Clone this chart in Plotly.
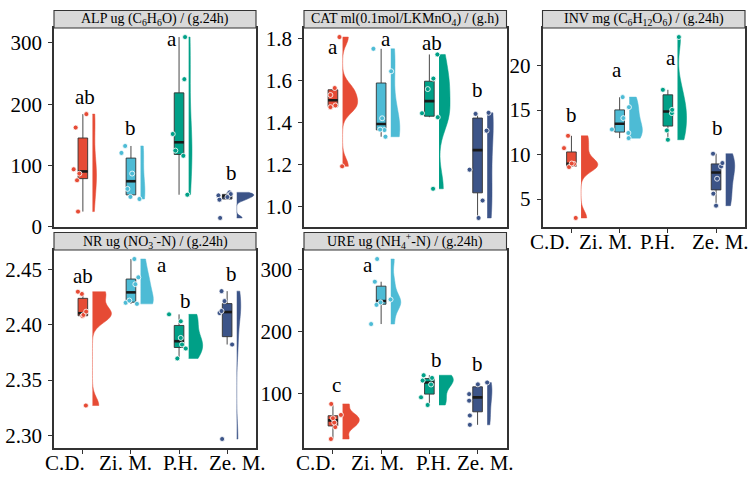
import numpy as np
import plotly.graph_objects as go

# ---------------- data ----------------
groups = ["C.D.", "Zi. M.", "P.H.", "Ze. M."]
colors = ["#E64B35", "#4DBBD5", "#00A087", "#3C5488"]

alp_values = [[184, 162, 94, 76, 25, 87],
              [132, 120.7, 49, 45.5, 87, 62],
              [309.7, 241, 151.6, 124.5, 116, 52.5],
              [14.6, 51.4, 44.4, 56.3, 53.6, 48.7]]
cat_values = [[1.806, 1.563, 1.530, 1.472, 1.48, 1.19],
              [1.75, 1.643, 1.419, 1.363, 1.365, 1.331],
              [1.723, 1.608, 1.558, 1.443, 1.424, 1.083],
              [0.944, 1.027, 1.174, 1.36, 1.44, 1.445]]
inv_values = [[2.87, 8.59, 8.93, 8.99, 10.72, 12.1],
              [11.84, 12.42, 12.82, 14.09, 15.32, 16.45],
              [11.66, 12.71, 14.65, 15.02, 17.27, 23.2],
              [4.25, 5.6, 7.28, 8.66, 9.04, 10.09]]
nr_values = [[2.327, 2.408, 2.409, 2.412, 2.428, 2.430],
             [2.419, 2.420, 2.422, 2.4368, 2.443, 2.4596],
             [2.3696, 2.3786, 2.3822, 2.3882, 2.4032, 2.4095],
             [2.2967, 2.3822, 2.4107, 2.4125, 2.4215, 2.4305]]
ure_values = [[26.4, 45.6, 53, 60, 65.3, 83],
              [212, 243, 247, 251.6, 280.3, 317],
              [81.3, 93.7, 114.4, 120.8, 125, 129.3],
              [49.3, 64.3, 88.3, 98.9, 114.6, 117.6]]

alp_letters = ["ab", "b", "a", "b"]
cat_letters = ["a", "a", "ab", "b"]
inv_letters = ["b", "a", "a", "b"]
nr_letters = ["ab", "a", "b", "b"]
ure_letters = ["c", "a", "b", "b"]

alp_ticks = [0, 100, 200, 300]
cat_ticks = [1.0, 1.2, 1.4, 1.6, 1.8]
inv_ticks = [5, 10, 15, 20]
nr_ticks = [2.30, 2.35, 2.40, 2.45]
ure_ticks = [100, 200, 300]

alp_title = "ALP ug (C<sub>6</sub>H<sub>6</sub>O) / (g.24h)"
cat_title = "CAT ml(0.1mol/LKMnO<sub>4</sub>) / (g.h)"
inv_title = "INV mg (C<sub>6</sub>H<sub>12</sub>O<sub>6</sub>) / (g.24h)"
nr_title = "NR ug (NO<sub>3</sub><sup>-</sup>-N) / (g.24h)"
ure_title = "URE ug (NH<sub>4</sub><sup>+</sup>-N) / (g.24h)"

# ---------------- layout / style (positions, sizes) ----------------
W, H = 754, 480
PXU = 48.1  # pixels per x unit
FONT = "Liberation Serif"

# jitter offsets of points (px), same order as values
alp_jit = [[3.5, -7.2, -9.2, -5.8, -4.8, -3.5], [-5.8, -9.5, -0.5, 8.5, 1.2, -3.5],
           [6, 5.3, -6.3, -3.7, 4.3, 8.3], [-7, -8.7, -7.7, 2.3, 3.6, 0.3]]
cat_jit = [[6.5, 1.8, -2.5, -2.5, 2.5, 9.2], [-7.7, 10, 1, 3.3, -1, 4.3],
           [8, 4, -1.6, -7.3, 8.4, 3.7], [1, 5, -8, 9, -2, 11]]
inv_jit = [[4.3, -2.4, 2.6, 0.3, -7.4, -3.4], [9, 8.7, -7.7, 3.7, 9.3, 3],
           [0, -1, 4, 4.3, -5, 11], [0, -2.7, 1, 5, 6.3, -3]]
nr_jit = [[3, -0.4, 0.6, 3.3, -1, -5], [6, -5.3, -1.6, 4.4, 7.4, 3.4],
          [-1.7, 6.7, 3, 1.7, 1.7, -10], [-5, 5, -7.6, -5.6, -2.6, -5.6]]
ure_jit = [[-2, 2.3, 1.3, 0, 8, -1.7], [-10, -4.6, -0.6, 9.4, -6.3, -4],
           [-1.7, -8.3, 1.7, -6.7, 2.7, -5.7], [-7.7, -7.7, -8.4, -8.4, 0.3, 9.6]]

# max half-width of violins (px)
alp_vw = [4, 4.3, 3.3, 17]
cat_vw = [15, 9, 11, 6]
inv_vw = [16.7, 13, 9, 9]
nr_vw = [19, 12.7, 14, 4]
ure_vw = [16.7, 10, 14.3, 4.7]

# letter positions (x = group index + dx, y in data units)
alp_lpos = [(1.04, 212), (2.0, 161), (2.85, 307), (4.09, 88)]
cat_lpos = [(1.0, 1.758), (2.1, 1.795), (3.06, 1.779), (4.0, 1.552)]
inv_lpos = [(1.0, 14.46), (1.95, 19.51), (3.07, 20.82), (4.03, 12.97)]
nr_lpos = [(1.0, 2.4446), (2.65, 2.4545), (3.14, 2.422), (4.1, 2.446)]
ure_lpos = [(1.07, 113.3), (1.72, 308), (3.14, 153.3), (4.0, 148)]

# x-label shifts (px) for bottom panels
inv_lab = [-21, -14, -10, 4]
nr_lab = [-18, -5, 1, 10]
ure_lab = [-17, -3.5, 4, 8]

cols = [(54, 256), (304, 506.5), (542.5, 745)]
rows = [(28, 227), (250, 448)]
strip_h = 17.5

panels = [
    dict(vals=alp_values, letters=alp_letters, ticks=alp_ticks, title=alp_title, jit=alp_jit,
         vw=alp_vw, lpos=alp_lpos, col=0, row=0, fmt="{:.0f}", lab=None),
    dict(vals=cat_values, letters=cat_letters, ticks=cat_ticks, title=cat_title, jit=cat_jit,
         vw=cat_vw, lpos=cat_lpos, col=1, row=0, fmt="{:.1f}", lab=None),
    dict(vals=inv_values, letters=inv_letters, ticks=inv_ticks, title=inv_title, jit=inv_jit,
         vw=inv_vw, lpos=inv_lpos, col=2, row=0, fmt="{:.0f}", lab=inv_lab),
    dict(vals=nr_values, letters=nr_letters, ticks=nr_ticks, title=nr_title, jit=nr_jit,
         vw=nr_vw, lpos=nr_lpos, col=0, row=1, fmt="{:.2f}", lab=nr_lab),
    dict(vals=ure_values, letters=ure_letters, ticks=ure_ticks, title=ure_title, jit=ure_jit,
         vw=ure_vw, lpos=ure_lpos, col=1, row=1, fmt="{:.0f}", lab=ure_lab),
]

fig = go.Figure()
annotations = []
shapes = []
layout_axes = {}

for k, P in enumerate(panels):
    sfx = "" if k == 0 else str(k + 1)
    xr, yr = "x" + sfx, "y" + sfx
    x0p, x1p = cols[P["col"]]
    y0p, y1p = rows[P["row"]]
    allv = np.concatenate([np.array(v, float) for v in P["vals"]])
    lo, hi = allv.min(), allv.max()
    rng = hi - lo
    yrange = [lo - 0.05 * rng, hi + 0.05 * rng]

    for g in range(4):
        v = np.array(P["vals"][g], float)
        c = colors[g]
        q1, med, q3 = np.percentile(v, [25, 50, 75])
        iqr = q3 - q1
        lf = v[v >= q1 - 1.5 * iqr].min()
        uf = v[v <= q3 + 1.5 * iqr].max()
        sd = v.std(ddof=1)
        bw = 0.9 * min(sd, iqr / 1.34 if iqr > 0 else sd) * len(v) ** -0.2
        fig.add_trace(go.Violin(
            x=[g + 1 + 0.2] * len(v), y=v, xaxis=xr, yaxis=yr, side="positive",
            width=2 * P["vw"][g] / PXU, points=False, spanmode="hard", bandwidth=bw,
            scalemode="width", fillcolor=c, line=dict(color=c, width=0.5),
            opacity=1, showlegend=False, hoverinfo="skip"))
        fig.add_trace(go.Box(
            x=[g + 1], q1=[q1], median=[med], q3=[q3], lowerfence=[lf], upperfence=[uf],
            xaxis=xr, yaxis=yr, width=0.2, fillcolor=c, whiskerwidth=0,
            line=dict(color="#333333", width=0.9), boxpoints=False,
            showlegend=False, hoverinfo="skip"))
        fig.add_trace(go.Scatter(
            x=[g + 1 - 0.1, g + 1 + 0.1], y=[med, med], xaxis=xr, yaxis=yr, mode="lines",
            line=dict(color="#1a1a1a", width=2.6), showlegend=False, hoverinfo="skip"))
        fig.add_trace(go.Scatter(
            x=[g + 1 + j / PXU for j in P["jit"][g]], y=v, xaxis=xr, yaxis=yr, mode="markers",
            marker=dict(size=5, color=c, line=dict(color="white", width=0.8)),
            showlegend=False, hoverinfo="skip"))
        lx, ly = P["lpos"][g]
        annotations.append(dict(x=lx, y=ly, xref=xr, yref=yr, text=P["letters"][g],
                                showarrow=False, font=dict(family=FONT, size=21, color="black"),
                                xanchor="center", yanchor="middle"))
        if P["lab"] is not None:
            annotations.append(dict(x=g + 1, y=1 - y1p / H, xref=xr, yref="paper",
                                    text=groups[g], showarrow=False, xshift=P["lab"][g],
                                    yshift=-1, yanchor="top", xanchor="center",
                                    font=dict(family=FONT, size=21, color="black")))

    bottom = P["lab"] is not None
    xax = dict(
        domain=[x0p / W, x1p / W], range=[0.4, 4.6], anchor=yr, showgrid=False, zeroline=False,
        showline=True, mirror=True, linecolor="#333333", linewidth=1.5,
        showticklabels=False)
    if bottom:
        xax.update(tickvals=[1, 2, 3, 4], ticks="outside", ticklen=4, tickcolor="#333333")
    else:
        xax.update(tickvals=[], ticks="")
    layout_axes["xaxis" + sfx] = xax
    layout_axes["yaxis" + sfx] = dict(
        domain=[1 - y1p / H, 1 - y0p / H], range=yrange, anchor=xr, showgrid=False,
        zeroline=False, showline=True, mirror=True, linecolor="#333333", linewidth=1.5,
        tickvals=P["ticks"], ticktext=[P["fmt"].format(t) for t in P["ticks"]],
        ticks="outside", ticklen=4, tickcolor="#333333", ticklabelstandoff=2,
        tickfont=dict(family=FONT, size=21, color="black"))

    # strip header
    shapes.append(dict(type="rect", xref="paper", yref="paper",
                       x0=x0p / W, x1=x1p / W, y0=1 - y0p / H, y1=1 - (y0p - strip_h) / H,
                       fillcolor="#D9D9D9", line=dict(color="#333333", width=1.1), layer="above"))
    annotations.append(dict(x=(x0p + x1p) / 2 / W, y=1 - (y0p - strip_h / 2) / H,
                            xref="paper", yref="paper", text=P["title"], showarrow=False,
                            xanchor="center", yanchor="middle",
                            font=dict(family=FONT, size=14, color="black")))

fig.update_layout(
    width=W, height=H, margin=dict(l=0, r=0, t=0, b=0), template="none",
    paper_bgcolor="white", plot_bgcolor="white", showlegend=False,
    violinmode="overlay", boxmode="overlay", violingap=0, boxgap=0,
    annotations=annotations, shapes=shapes, **layout_axes)

fig.write_html("out.html")
